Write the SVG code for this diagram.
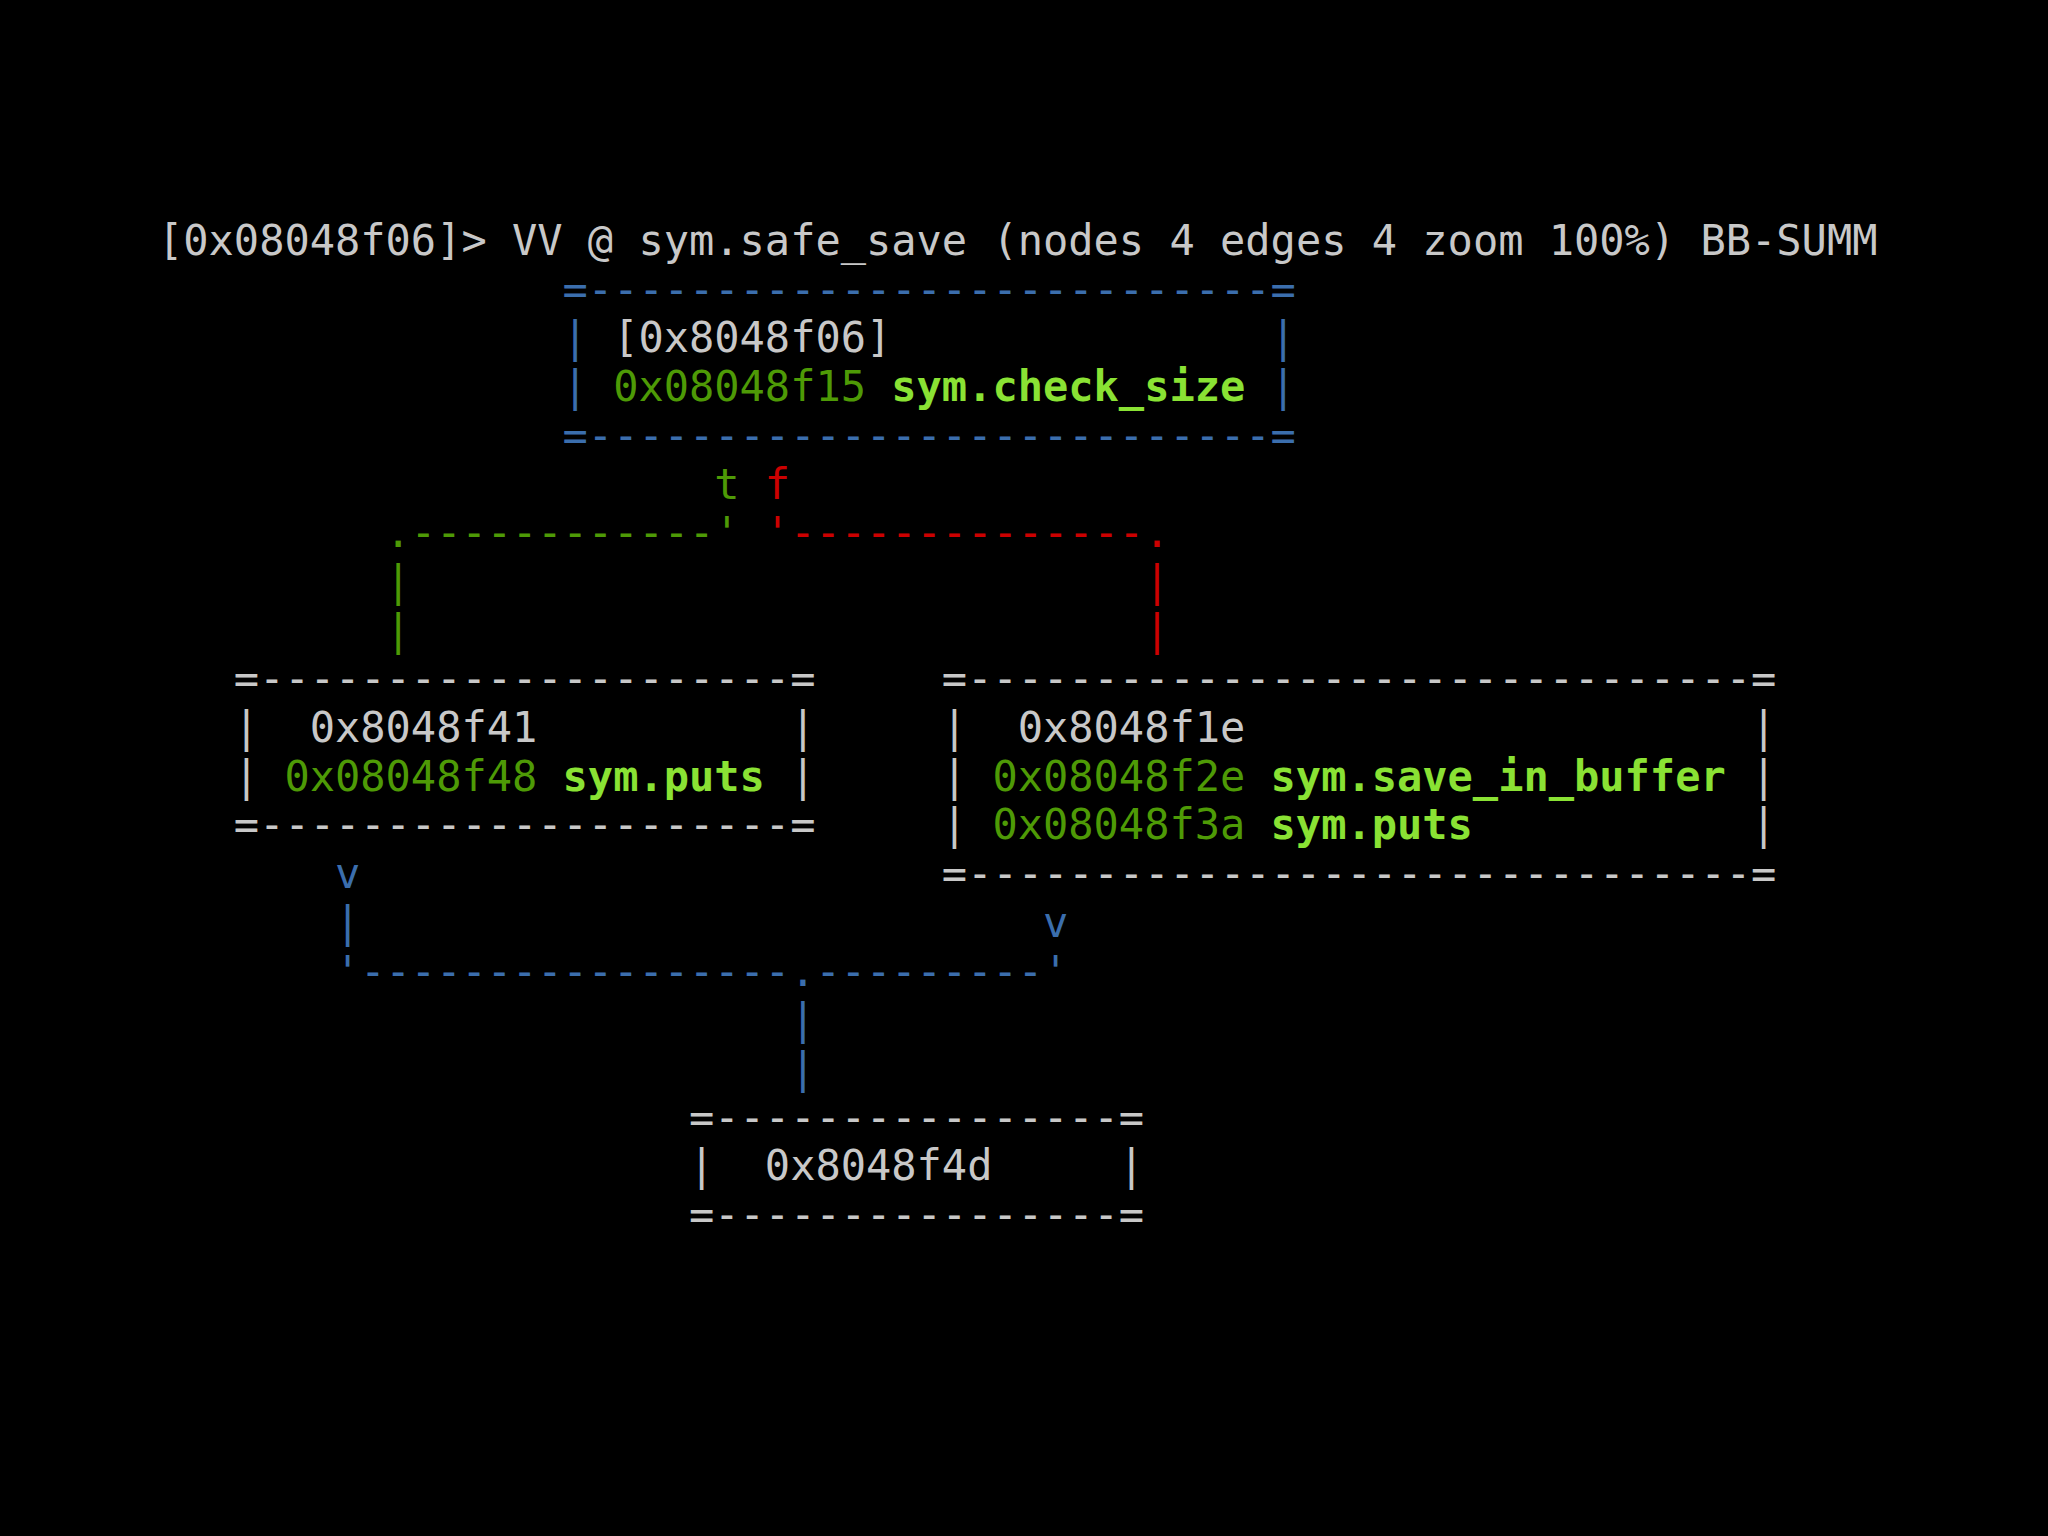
<svg xmlns="http://www.w3.org/2000/svg" width="2048" height="1536" viewBox="0 0 2048 1536">
<style>
text{font-family:"DejaVu Sans Mono","Liberation Mono",monospace;font-size:42px}
.g{fill:#c8c8c8}
.b{fill:#3b6ead}
.dg{fill:#4e9a06}
.lg{fill:#8ae234;font-weight:bold}
.r{fill:#cc0000}
</style>
<rect width="2048" height="1536" fill="#000"/>
<text id="title" class="g" x="158" y="255">[0x08048f06]&gt; VV @ sym.safe_save (nodes 4 edges 4 zoom 100%) BB-SUMM</text>
<g id="node-0x8048f06">
<text class="b" x="562.58" y="303.7">=---------------------------=</text>
<text class="b" x="562.58" y="352.4">|</text>
<text class="g" x="613.15" y="352.4">[0x8048f06]</text>
<text class="b" x="1270.58" y="352.4">|</text>
<text class="b" x="562.58" y="401.1">|</text>
<text class="dg" x="613.15" y="401.1">0x08048f15</text>
<text class="lg" x="891.29" y="401.1">sym.check_size</text>
<text class="b" x="1270.58" y="401.1">|</text>
<text class="b" x="562.58" y="449.8">=---------------------------=</text>
</g>
<g id="node-0x8048f41">
<text class="g" x="233.86" y="693.3">=---------------------=</text>
<text class="g" x="233.86" y="742">|</text>
<text class="g" x="309.72" y="742">0x8048f41</text>
<text class="g" x="790.15" y="742">|</text>
<text class="g" x="233.86" y="790.7">|</text>
<text class="dg" x="284.43" y="790.7">0x08048f48</text>
<text class="lg" x="562.58" y="790.7">sym.puts</text>
<text class="g" x="790.15" y="790.7">|</text>
<text class="g" x="233.86" y="839.4">=---------------------=</text>
</g>
<g id="node-0x8048f1e">
<text class="g" x="941.87" y="693.3">=-------------------------------=</text>
<text class="g" x="941.87" y="742">|</text>
<text class="g" x="1017.72" y="742">0x8048f1e</text>
<text class="g" x="1751.02" y="742">|</text>
<text class="g" x="941.87" y="790.7">|</text>
<text class="dg" x="992.44" y="790.7">0x08048f2e</text>
<text class="lg" x="1270.58" y="790.7">sym.save_in_buffer</text>
<text class="g" x="1751.02" y="790.7">|</text>
<text class="g" x="941.87" y="839.4">|</text>
<text class="dg" x="992.44" y="839.4">0x08048f3a</text>
<text class="lg" x="1270.58" y="839.4">sym.puts</text>
<text class="g" x="1751.02" y="839.4">|</text>
<text class="g" x="941.87" y="888.1">=-------------------------------=</text>
</g>
<g id="node-0x8048f4d">
<text class="g" x="689.01" y="1131.6">=----------------=</text>
<text class="g" x="689.01" y="1180.3">|</text>
<text class="g" x="764.86" y="1180.3">0x8048f4d</text>
<text class="g" x="1118.87" y="1180.3">|</text>
<text class="g" x="689.01" y="1229">=----------------=</text>
</g>
<g id="connectors">
<text class="dg" x="714.29" y="498.5">t</text>
<text class="r" x="764.86" y="498.5">f</text>
<text class="dg" x="385.57" y="547.2">.------------'</text>
<text class="r" x="764.86" y="547.2">'--------------.</text>
<text class="dg" x="385.57" y="595.9">|</text>
<text class="dg" x="385.57" y="644.6">|</text>
<text class="r" x="1144.15" y="595.9">|</text>
<text class="r" x="1144.15" y="644.6">|</text>
<text class="b" x="335" y="888.1">v</text>
<text class="b" x="335" y="936.8">|</text>
<text class="b" x="1043.01" y="936.8">v</text>
<text class="b" x="335" y="985.5">'-----------------.---------'</text>
<text class="b" x="790.15" y="1034.2">|</text>
<text class="b" x="790.15" y="1082.9">|</text>
</g>
</svg>
